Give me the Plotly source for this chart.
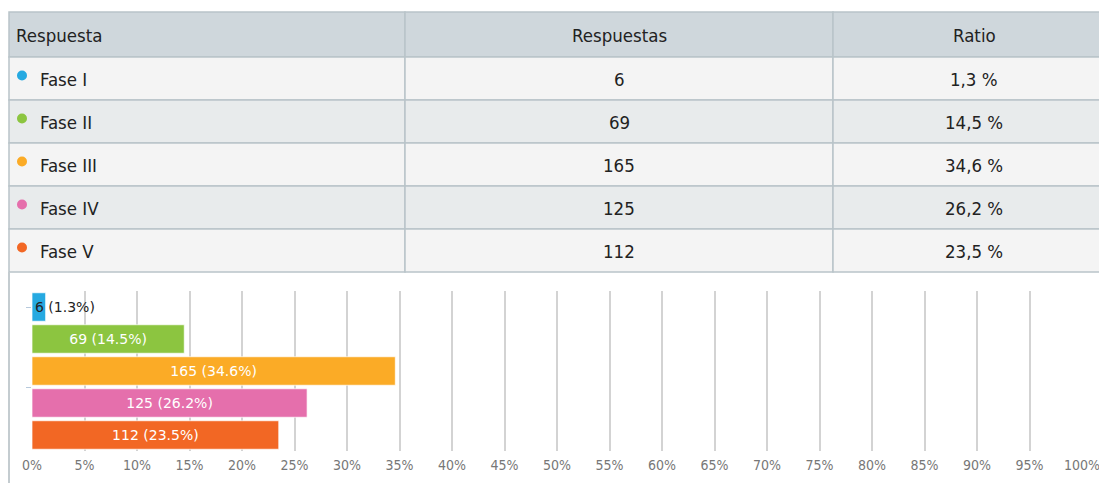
import plotly.graph_objects as go

W, H = 1099, 483

phases = ["Fase I", "Fase II", "Fase III", "Fase IV", "Fase V"]
counts = [6, 69, 165, 125, 112]
ratios = [1.3, 14.5, 34.6, 26.2, 23.5]
colors = ["#25a9e1", "#8cc540", "#fbab26", "#e56fac", "#f26724"]
headers = ["Respuesta", "Respuestas", "Ratio"]
tick_vals = list(range(0, 101, 5))
tick_text = [f"{v}%" for v in tick_vals]

TFONT = "Liberation Sans Narrow, DejaVu Sans Condensed, Arial Narrow, sans-serif"
CFONT = "DejaVu Sans, Verdana, sans-serif"

def px_x(x):
    return x / W

def px_y(y):
    return 1 - y / H

fig = go.Figure()

# ---------- table geometry (pixels) ----------
col_edges = [9, 405, 833, 1115]
row_edges = [12, 57, 100, 143, 186, 229, 272]
header_fill = "#cfd7dc"
row_fills = ["#f4f4f4", "#e8ebec"]
line_col = "#b9c4c9"

shapes = []
annotations = []

n_rows = len(phases) + 1
for r in range(n_rows):
    y0, y1 = row_edges[r], row_edges[r + 1]
    fill = header_fill if r == 0 else row_fills[(r - 1) % 2]
    for c in range(3):
        x0, x1 = col_edges[c], col_edges[c + 1]
        shapes.append(dict(type="rect", xref="paper", yref="paper",
                           x0=px_x(x0), x1=px_x(x1), y0=px_y(y1), y1=px_y(y0),
                           fillcolor=fill, line=dict(color=line_col, width=1.5),
                           layer="below"))

def cell_text(text, r, c, align):
    y0, y1 = row_edges[r], row_edges[r + 1]
    yc = (y0 + y1) / 2 + 1
    if align == "left":
        x = col_edges[c] + (5 if r == 0 else 29)
        xanchor = "left"
    else:
        x = (col_edges[c] + col_edges[c + 1]) / 2
        xanchor = "center"
    annotations.append(dict(xref="paper", yref="paper", x=px_x(x), y=px_y(yc),
                            text=text, showarrow=False, xanchor=xanchor, yanchor="middle",
                            font=dict(family=TFONT, size=18.5, color="#222")))

for c, h in enumerate(headers):
    cell_text(h, 0, c, "left" if c == 0 else "center")

for i, (p, n, rt, col) in enumerate(zip(phases, counts, ratios, colors)):
    r = i + 1
    cell_text(p, r, 0, "left")
    cell_text(str(n), r, 1, "center")
    cell_text(f"{rt:.1f} %".replace(".", ","), r, 2, "center")
    yc = (row_edges[r] + row_edges[r + 1]) / 2 - 3
    cx = col_edges[0] + 13
    rad = 5
    shapes.append(dict(type="circle", xref="paper", yref="paper",
                       x0=px_x(cx - rad), x1=px_x(cx + rad),
                       y0=px_y(yc + rad), y1=px_y(yc - rad),
                       fillcolor=col, line=dict(color=col, width=0)))

# Left container border below the table
shapes.append(dict(type="line", xref="paper", yref="paper",
                   x0=px_x(9), x1=px_x(9), y0=0, y1=px_y(272),
                   line=dict(color="#c4ccd0", width=2)))

# ---------- bars ----------
text = [f"{c} ({r}%)" for c, r in zip(counts, ratios)]
bar_text = ["" if r < 5 else t for r, t in zip(ratios, text)]
fig.add_trace(go.Bar(
    x=ratios,
    y=phases,
    orientation="h",
    marker=dict(color=colors, line=dict(color="rgba(255,255,255,0.7)", width=1)),
    width=0.89,
    text=bar_text,
    textposition="inside",
    insidetextanchor="middle",
    constraintext="none",
    textfont=dict(family=CFONT, size=14, color="white"),
    textangle=0,
    cliponaxis=False,
    hoverinfo="skip",
))

# labels of bars too short to hold their text: start at the bar's base
for p, r, t in zip(phases, ratios, text):
    if r < 5:
        annotations.append(dict(xref="x", yref="y", x=0, y=p, text=t,
                                showarrow=False, xanchor="left", yanchor="middle",
                                xshift=1, font=dict(family=CFONT, size=14, color="#222")))

fig.update_xaxes(
    domain=[px_x(32), px_x(1082)],
    range=[0, 100],
    tickvals=tick_vals,
    ticktext=tick_text,
    showgrid=True,
    gridcolor="#d3d3d3",
    gridwidth=1.5,
    zeroline=False,
    showline=False,
    tickfont=dict(family=TFONT, size=14, color="#777"),
    ticks="",
    ticklabelstandoff=4,
    ticklabeloverflow="allow",
    automargin=False,
    fixedrange=True,
)
fig.update_yaxes(
    domain=[px_y(451), px_y(291)],
    autorange="reversed",
    showticklabels=False,
    showgrid=False,
    zeroline=False,
    showline=False,
    ticks="outside",
    ticklen=5,
    tickwidth=1,
    tickcolor="#b7c9dc",
    tickmode="array",
    tickvals=[0, 2.5],
    automargin=False,
    fixedrange=True,
)

fig.update_layout(
    width=W, height=H,
    margin=dict(l=0, r=0, t=0, b=0),
    paper_bgcolor="white",
    plot_bgcolor="rgba(0,0,0,0)",
    showlegend=False,
    bargap=0.1,
    shapes=shapes,
    annotations=annotations,
)

fig.write_html("out.html", config={"displayModeBar": False},
               post_script="document.body.style.margin='0px';")
